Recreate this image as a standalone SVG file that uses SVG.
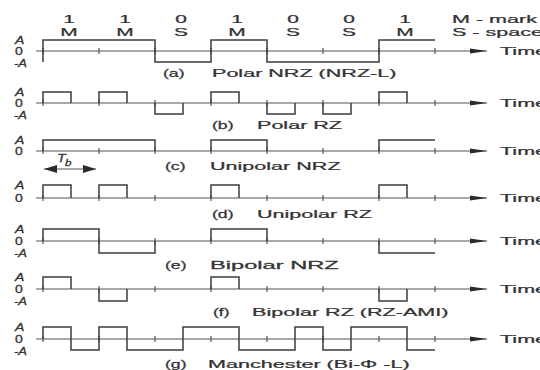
<svg xmlns="http://www.w3.org/2000/svg" width="540" height="370" viewBox="0 0 540 370">
<style>
text{font-family:"Liberation Sans",Arial,sans-serif;font-size:11px;fill:#333;stroke:#333;stroke-width:0.25}
.c{text-anchor:middle}
.lv{font-style:italic}
.sm{font-size:10px}
.w{fill:none;stroke:#3c3c3c;stroke-width:1.5}
.ax{fill:none;stroke:#555;stroke-width:1.2}
.tk{fill:none;stroke:#555;stroke-width:1.2}
</style>
<defs>
<marker id="arr" markerWidth="17" markerHeight="6" refX="17" refY="3" orient="auto" markerUnits="userSpaceOnUse"><path d="M0,0.5 L17,3 L0,5.5 z" fill="#2a2a2a"/></marker>
<marker id="arrS" markerWidth="13" markerHeight="8" refX="13" refY="4" orient="auto-start-reverse" markerUnits="userSpaceOnUse"><path d="M0,0 L13,4 L0,8 z" fill="#2a2a2a"/></marker>
<path id="ticks" d="M43,-3V3M99,-3V3M155,-3V3M211,-3V3M267,-3V3M323,-3V3M379,-3V3M435,-3V3"/>
</defs>

<g id="header">
<text class="c" transform="translate(69,23) scale(1.9,1)">1</text>
<text class="c" transform="translate(125,23) scale(1.9,1)">1</text>
<text class="c" transform="translate(181,23) scale(1.9,1)">0</text>
<text class="c" transform="translate(237,23) scale(1.9,1)">1</text>
<text class="c" transform="translate(293,23) scale(1.9,1)">0</text>
<text class="c" transform="translate(349,23) scale(1.9,1)">0</text>
<text class="c" transform="translate(405,23) scale(1.9,1)">1</text>
<text class="c" transform="translate(69,36) scale(1.9,1)">M</text>
<text class="c" transform="translate(125,36) scale(1.9,1)">M</text>
<text class="c" transform="translate(181,36) scale(1.9,1)">S</text>
<text class="c" transform="translate(237,36) scale(1.9,1)">M</text>
<text class="c" transform="translate(293,36) scale(1.9,1)">S</text>
<text class="c" transform="translate(349,36) scale(1.9,1)">S</text>
<text class="c" transform="translate(405,36) scale(1.9,1)">M</text>
<text transform="translate(452,23) scale(1.96,1)">M - mark</text>
<text transform="translate(452,36) scale(1.96,1)">S - space</text>
</g>

<g id="connectors">
<path class="ax" d="M36,51H487" marker-end="url(#arr)"/>
<path class="ax" d="M36,103H487" marker-end="url(#arr)"/>
<path class="ax" d="M36,151H487" marker-end="url(#arr)"/>
<path class="ax" d="M36,198H487" marker-end="url(#arr)"/>
<path class="ax" d="M36,241H487" marker-end="url(#arr)"/>
<path class="ax" d="M36,289H487" marker-end="url(#arr)"/>
<path class="ax" d="M36,339H487" marker-end="url(#arr)"/>
<path class="ax" d="M44,169H96" stroke-width="2" marker-start="url(#arrS)" marker-end="url(#arrS)"/>
</g>

<g id="row-a">
<use href="#ticks" class="tk" transform="translate(0,51)"/>
<path class="w" d="M43,62V40H155V62H211V40H267V62H379V40H435"/>
<text class="lv sm" transform="translate(15,44) scale(1.4,1)">A</text>
<text class="sm" transform="translate(15,55) scale(1.4,1)">0</text>
<text class="lv sm" transform="translate(14,67) scale(1.3,1)">-A</text>
<text transform="translate(500,55) scale(1.96,1)">Time</text>
<text transform="translate(163,77) scale(1.6,1)">(a)</text>
<text transform="translate(212,77) scale(1.96,1)">Polar NRZ (NRZ-L)</text>
</g>

<g id="row-b">
<use href="#ticks" class="tk" transform="translate(0,103)"/>
<path class="w" d="M43,103V92H71V103M99,103V92H127V103M155,103V114H183V103M211,103V92H239V103M267,103V114H295V103M323,103V114H351V103M379,103V92H407V103"/>
<text class="lv sm" transform="translate(15,96) scale(1.4,1)">A</text>
<text class="sm" transform="translate(15,107) scale(1.4,1)">0</text>
<text class="lv sm" transform="translate(14,119) scale(1.3,1)">-A</text>
<text transform="translate(500,107) scale(1.96,1)">Time</text>
<text transform="translate(212,129) scale(1.6,1)">(b)</text>
<text transform="translate(257,129) scale(1.96,1)">Polar RZ</text>
</g>

<g id="row-c">
<use href="#ticks" class="tk" transform="translate(0,151)"/>
<path class="w" d="M43,151V140H155V151M211,151V140H267V151M379,151V140H435"/>
<text class="lv sm" transform="translate(15,144) scale(1.4,1)">A</text>
<text class="sm" transform="translate(15,155) scale(1.4,1)">0</text>
<text transform="translate(500,155) scale(1.96,1)">Time</text>
<text class="lv" transform="translate(57,162) scale(1.3,1)">T</text>
<text class="lv" transform="translate(65,166) scale(1.3,1)" style="font-size:9px">b</text>
<text transform="translate(165,170) scale(1.6,1)">(c)</text>
<text transform="translate(210,170) scale(1.96,1)">Unipolar NRZ</text>
</g>

<g id="row-d">
<use href="#ticks" class="tk" transform="translate(0,198)"/>
<path class="w" d="M43,198V185H71V198M99,198V185H127V198M211,198V185H239V198M379,198V185H407V198"/>
<text class="lv sm" transform="translate(15,189) scale(1.4,1)">A</text>
<text class="sm" transform="translate(15,202) scale(1.4,1)">0</text>
<text transform="translate(500,202) scale(1.96,1)">Time</text>
<text transform="translate(212,218) scale(1.6,1)">(d)</text>
<text transform="translate(257,218) scale(1.96,1)">Unipolar RZ</text>
</g>

<g id="row-e">
<use href="#ticks" class="tk" transform="translate(0,241)"/>
<path class="w" d="M43,241V229H99V253H155V241M211,241V229H267V241M379,241V253H435"/>
<text class="lv sm" transform="translate(15,233) scale(1.4,1)">A</text>
<text class="sm" transform="translate(15,245) scale(1.4,1)">0</text>
<text class="lv sm" transform="translate(14,257) scale(1.3,1)">-A</text>
<text transform="translate(500,245) scale(1.96,1)">Time</text>
<text transform="translate(165,269) scale(1.6,1)">(e)</text>
<text transform="translate(210,269) scale(2.15,1)">Bipolar NRZ</text>
</g>

<g id="row-f">
<use href="#ticks" class="tk" transform="translate(0,289)"/>
<path class="w" d="M43,289V277H71V289M99,289V301H127V289M211,289V277H239V289M379,289V301H407V289"/>
<text class="lv sm" transform="translate(15,281) scale(1.4,1)">A</text>
<text class="sm" transform="translate(15,293) scale(1.4,1)">0</text>
<text class="lv sm" transform="translate(14,305) scale(1.3,1)">-A</text>
<text transform="translate(500,293) scale(1.96,1)">Time</text>
<text transform="translate(213,316) scale(1.6,1)">(f)</text>
<text transform="translate(252,316) scale(1.96,1)">Bipolar RZ (RZ-AMI)</text>
</g>

<g id="row-g">
<use href="#ticks" class="tk" transform="translate(0,339)"/>
<path class="w" d="M43,339V327H71V350H99V327H127V350H183V327H239V350H295V327H323V350H351V327H407V350H435"/>
<text class="lv sm" transform="translate(15,331) scale(1.4,1)">A</text>
<text class="sm" transform="translate(15,343) scale(1.4,1)">0</text>
<text class="lv sm" transform="translate(14,355) scale(1.3,1)">-A</text>
<text transform="translate(500,343) scale(1.96,1)">Time</text>
<text transform="translate(165,368) scale(1.6,1)">(g)</text>
<text transform="translate(208,368) scale(1.96,1)">Manchester (Bi-Φ -L)</text>
</g>
</svg>
